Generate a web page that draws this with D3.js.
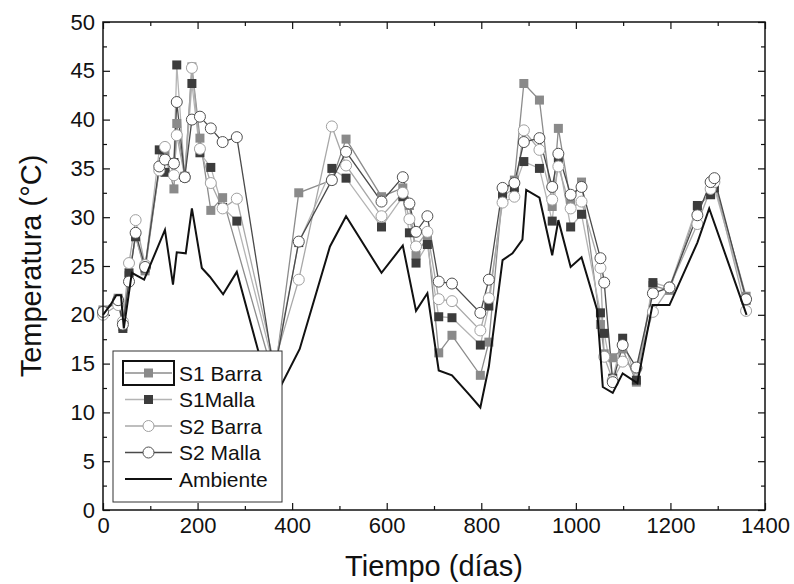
<!DOCTYPE html>
<html>
<head>
<meta charset="utf-8">
<script src="https://cdn.jsdelivr.net/npm/d3@7"></script>
<style>
  body { margin: 0; background: #fff; }
  svg text { font-family: "Liberation Sans", Arial, sans-serif; }
</style>
</head>
<body>
<div id="chart"></div>
<script>
// measurement days shared by the four sensors
const days = [0, 32, 42, 55, 69, 89, 119, 131, 150, 156, 173, 188, 205, 228, 253, 283,
  362, 414, 484, 514, 589, 634, 648, 662, 686, 710, 738, 798, 816, 845, 870, 890,
  923, 950, 963, 989, 1012, 1052, 1060, 1078, 1099, 1128, 1163, 1198, 1257, 1285, 1293, 1360];

const s1Barra = [20.5, 21.7, 18.8, 24.0, 28.0, 24.5, 35.0, 36.5, 32.9, 39.6, 34.2, 45.4, 38.1, 30.7, 32.0, null,
  13.5, 32.5, 33.8, 38.0, 32.1, 33.0, 31.2, 26.1, 28.0, 16.1, 17.9, 13.8, 17.2, 32.5, 33.8, 43.7,
  42.0, 31.1, 39.1, 31.6, 33.6, 19.0, 16.0, 15.6, 16.5, 13.1, 23.0, 22.5, 31.0, 32.5, 33.5, 21.9];

const s1Malla = [20.3, 21.5, 18.6, 24.3, 28.0, 24.8, 36.9, 34.6, 35.6, 45.6, 34.1, 43.7, 36.6, 35.1, 31.0, 29.6,
  14.5, 27.4, 35.0, 34.0, 29.0, 32.1, 28.4, 25.3, 27.2, 19.8, 19.7, 16.9, 20.9, 32.1, 33.0, 35.7,
  35.0, 29.6, 36.0, 29.0, 30.3, 20.2, 18.1, 13.5, 17.6, 13.3, 23.3, 22.8, 31.2, 32.3, 33.0, 21.5];

const s2Barra = [20.0, 21.0, 19.3, 25.3, 29.7, 25.1, 34.8, 37.2, 34.3, 38.4, 34.1, 45.3, 37.0, 33.5, 30.9, 31.9,
  15.0, 23.6, 39.3, 35.3, 30.1, 32.5, 29.8, 27.0, 28.5, 21.6, 21.4, 18.4, 21.7, 31.5, 32.1, 38.9,
  36.9, 31.8, 35.2, 30.9, 31.6, 24.8, 15.7, 13.3, 15.2, 14.5, 20.3, 22.8, 29.3, 32.9, 33.6, 20.4];

const s2Malla = [20.3, 21.5, 19.0, 23.4, 28.4, 24.9, 35.2, 35.9, 35.5, 41.8, 34.1, 40.0, 40.3, 39.1, 37.7, 38.2,
  14.0, 27.5, 33.8, 36.7, 31.6, 34.1, 31.4, 28.5, 30.1, 23.4, 23.2, 20.2, 23.6, 33.0, 33.5, 37.7,
  38.1, 33.1, 36.5, 32.3, 33.1, 25.8, 23.3, 13.1, 16.9, 14.6, 22.2, 22.8, 30.2, 33.6, 34.0, 21.6];

// ambient temperature has its own sampling
const ambDays = [0, 17, 28, 38, 44, 61, 87, 131, 148, 156, 175, 188, 209, 226, 254, 283, 358, 416, 480, 514,
  589, 634, 662, 686, 710, 738, 775, 798, 816, 845, 866, 887, 895, 923, 950, 963, 989, 1012, 1045, 1057,
  1078, 1099, 1130, 1162, 1198, 1257, 1282, 1361];
const ambiente = [20.0, 21.1, 22.0, 22.0, 18.6, 24.3, 23.6, 28.7, 23.1, 26.4, 26.3, 30.9, 24.8, 23.9, 22.1, 24.4, 11.0, 16.5, 27.0, 30.1,
  24.3, 27.1, 20.4, 22.2, 14.3, 13.8, 11.8, 10.5, 14.7, 25.6, 26.3, 27.7, 32.8, 32.0, 26.1, 29.7, 24.9, 25.9, 20.5, 12.6,
  12.0, 14.0, 13.0, 21.0, 21.0, 27.4, 30.9, 20.0];

const xTicks = [0, 200, 400, 600, 800, 1000, 1200, 1400];
const yTicks = [0, 5, 10, 15, 20, 25, 30, 35, 40, 45, 50];

const width = 794, height = 584;
const plot = { left: 103, right: 765, top: 22, bottom: 510 };

const svg = d3.select("#chart").append("svg")
  .attr("width", width)
  .attr("height", height);

const x = d3.scaleLinear().domain([0, 1400]).range([plot.left, plot.right]);
const y = d3.scaleLinear().domain([0, 50]).range([plot.bottom, plot.top]);

const series = [
  { name: "S1 Barra", values: s1Barra, line: "#8c8c8c", marker: "square", fill: "#8a8a8a", stroke: "#8a8a8a" },
  { name: "S1Malla", values: s1Malla, line: "#b4b4b4", marker: "square", fill: "#3c3c3c", stroke: "#3c3c3c" },
  { name: "S2 Barra", values: s2Barra, line: "#a8a8a8", marker: "circle", fill: "#fff", stroke: "#a0a0a0" },
  { name: "S2 Malla", values: s2Malla, line: "#4a4a4a", marker: "circle", fill: "#fff", stroke: "#505050" }
];

const line = d3.line().x(d => x(d.day)).y(d => y(d.t));

// axes, ticks point inwards
function styleAxis(g) {
  g.select(".domain").remove();
  g.selectAll(".tick line").attr("stroke", "#111").attr("stroke-width", 1.2);
  g.selectAll(".tick text").attr("font-size", 22).attr("fill", "#111");
}

const minorX = d3.range(100, 1400, 200);
const minorY = d3.range(2.5, 50, 5);

svg.append("g").attr("transform", `translate(0,${plot.bottom})`)
  .call(d3.axisBottom(x).tickValues(xTicks).tickSize(-7).tickPadding(7).tickFormat(d3.format("d"))).call(styleAxis);
svg.append("g").attr("transform", `translate(0,${plot.bottom})`)
  .call(d3.axisBottom(x).tickValues(minorX).tickSize(-4).tickFormat("")).call(styleAxis);
svg.append("g").attr("transform", `translate(0,${plot.top})`)
  .call(d3.axisTop(x).tickValues(xTicks).tickSize(-7).tickFormat("")).call(styleAxis);
svg.append("g").attr("transform", `translate(0,${plot.top})`)
  .call(d3.axisTop(x).tickValues(minorX).tickSize(-4).tickFormat("")).call(styleAxis);

svg.append("g").attr("transform", `translate(${plot.left},0)`)
  .call(d3.axisLeft(y).tickValues(yTicks).tickSize(-7).tickPadding(8)).call(styleAxis);
svg.append("g").attr("transform", `translate(${plot.left},0)`)
  .call(d3.axisLeft(y).tickValues(minorY).tickSize(-4).tickFormat("")).call(styleAxis);
svg.append("g").attr("transform", `translate(${plot.right},0)`)
  .call(d3.axisRight(y).tickValues(yTicks).tickSize(-7).tickFormat("")).call(styleAxis);
svg.append("g").attr("transform", `translate(${plot.right},0)`)
  .call(d3.axisRight(y).tickValues(minorY).tickSize(-4).tickFormat("")).call(styleAxis);

// series lines + markers
series.forEach(s => {
  const pts = days.map((d, i) => ({ day: d, t: s.values[i] })).filter(p => p.t != null);
  svg.append("path")
    .attr("d", line(pts))
    .attr("fill", "none")
    .attr("stroke", s.line)
    .attr("stroke-width", 1.3);
  s.pts = pts;
});

series.forEach(s => {
  const g = svg.append("g");
  if (s.marker === "square") {
    g.selectAll("rect").data(s.pts).enter().append("rect")
      .attr("x", d => x(d.day) - 4.5)
      .attr("y", d => y(d.t) - 4.5)
      .attr("width", 9).attr("height", 9)
      .attr("fill", s.fill);
  } else {
    g.selectAll("circle").data(s.pts).enter().append("circle")
      .attr("cx", d => x(d.day))
      .attr("cy", d => y(d.t))
      .attr("r", 5.5)
      .attr("fill", s.fill)
      .attr("stroke", s.stroke)
      .attr("stroke-width", 1);
  }
});

const ambPts = ambDays.map((d, i) => ({ day: d, t: ambiente[i] }));
svg.append("path")
  .attr("d", line(ambPts))
  .attr("fill", "none")
  .attr("stroke", "#111")
  .attr("stroke-width", 2);

// frame
svg.append("rect")
  .attr("x", plot.left).attr("y", plot.top)
  .attr("width", plot.right - plot.left).attr("height", plot.bottom - plot.top)
  .attr("fill", "none").attr("stroke", "#111").attr("stroke-width", 1.5);

// legend
const legend = svg.append("g");
legend.append("rect")
  .attr("x", 113).attr("y", 351).attr("width", 169).attr("height", 151)
  .attr("fill", "#fff").attr("stroke", "#333").attr("stroke-width", 1);

const legendItems = series.concat([{ name: "Ambiente", line: "#111", marker: null }]);
legendItems.forEach((s, i) => {
  const ly = 373 + i * 26.5;
  legend.append("line")
    .attr("x1", 125).attr("x2", 172).attr("y1", ly).attr("y2", ly)
    .attr("stroke", s.line).attr("stroke-width", s.marker ? 1.3 : 2);
  if (s.marker === "square") {
    legend.append("rect").attr("x", 144).attr("y", ly - 4.5).attr("width", 9).attr("height", 9).attr("fill", s.fill);
  } else if (s.marker === "circle") {
    legend.append("circle").attr("cx", 148.5).attr("cy", ly).attr("r", 5.5)
      .attr("fill", "#fff").attr("stroke", s.stroke);
  }
  legend.append("text")
    .attr("x", 179).attr("y", ly + 7.5)
    .attr("font-size", 21).attr("fill", "#111")
    .text(s.name);
});
// selection box around the first legend sample
legend.append("rect")
  .attr("x", 123).attr("y", 361).attr("width", 51).attr("height", 24)
  .attr("fill", "none").attr("stroke", "#111").attr("stroke-width", 2);

// axis titles
svg.append("text")
  .attr("x", (plot.left + plot.right) / 2).attr("y", 576)
  .attr("text-anchor", "middle").attr("font-size", 29).attr("fill", "#111")
  .text("Tiempo (días)");
svg.append("text")
  .attr("transform", `translate(41,${(plot.top + plot.bottom) / 2}) rotate(-90)`)
  .attr("text-anchor", "middle").attr("font-size", 29).attr("fill", "#111")
  .text("Temperatura (°C)");
</script>
</body>
</html>
